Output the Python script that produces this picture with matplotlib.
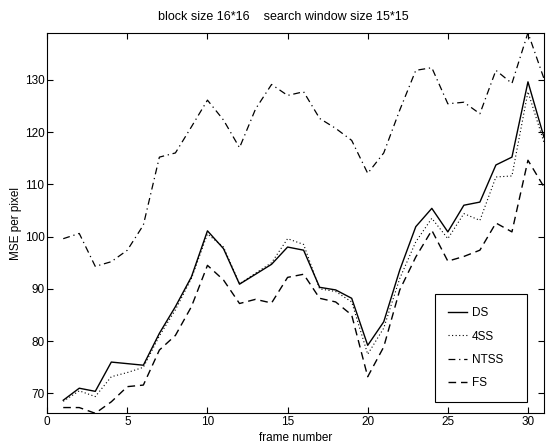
import numpy as np
import matplotlib
matplotlib.use("Agg")
import matplotlib.pyplot as plt

plt.rcParams['font.family'] = ['Liberation Sans', 'DejaVu Sans']

frames = list(range(1, 32))

ds = [68.7, 71.0, 70.4, 76.0, 75.7, 75.4, 81.5, 86.6, 92.3, 101.1, 97.7, 90.9, 92.8, 94.7, 98.0, 97.4,
      90.3, 89.8, 88.2, 79.2, 83.7, 93.6, 101.9, 105.4, 100.9, 106.0, 106.6, 113.7, 115.2, 129.6, 119.0]
ss4 = [68.5, 70.5, 69.4, 73.2, 74.0, 75.0, 81.0, 86.0, 92.0, 100.5, 98.0, 91.0, 93.0, 95.0, 99.6, 98.5,
       90.0, 89.5, 87.5, 77.5, 82.5, 92.0, 99.0, 103.5, 99.6, 104.4, 103.1, 111.4, 111.6, 127.7, 118.0]
ntss = [99.6, 100.6, 94.3, 95.2, 97.4, 102.2, 115.2, 116.0, 121.0, 126.1, 122.3, 117.0, 124.4, 129.1, 127.0, 127.7,
        122.6, 120.7, 118.4, 112.1, 116.0, 124.2, 131.8, 132.3, 125.4, 125.7, 123.5, 131.8, 129.3, 139.0, 130.2]
fs = [67.3, 67.3, 66.2, 68.4, 71.3, 71.6, 78.3, 81.1, 86.6, 94.5, 91.7, 87.2, 88.0, 87.3, 92.2, 92.8,
      88.2, 87.5, 85.0, 73.2, 78.9, 89.8, 96.1, 101.2, 95.3, 96.2, 97.4, 102.6, 100.9, 114.6, 109.5]

xticks = [0, 5, 10, 15, 20, 25, 30]
yticks = [70, 80, 90, 100, 110, 120, 130]

fig = plt.figure(figsize=(5.47, 4.46), dpi=100)
ax = fig.add_axes([0.0863, 0.0733, 0.9082, 0.8534])

ax.plot(frames, ds, color='black', lw=1.0, label='DS')
ax.plot(frames, ss4, color='black', lw=0.8, dashes=(1, 2.2), label='4SS')
ax.plot(frames, ntss, color='black', lw=0.9, dashes=(5.5, 3, 1, 3), label='NTSS')
ax.plot(frames, fs, color='black', lw=1.0, dashes=(5.5, 3.5), label='FS')

ax.set_xlim(0, 31)
ax.set_ylim(66.2, 139)
ax.set_xticks(xticks)
ax.set_yticks(yticks)
ax.tick_params(direction='in', top=True, right=True, length=4, width=0.8, labelsize=8.5, pad=2)
for s in ax.spines.values():
    s.set_linewidth(0.8)

ax.set_title('block size 16*16    search window size 15*15', fontsize=9, pad=9, x=0.476)
ax.set_xlabel('frame number', fontsize=8.5, labelpad=3)
ax.set_ylabel('MSE per pixel', fontsize=8.5, labelpad=2)

# legend box stretched to the width of the original one, contents left aligned
leg = ax.legend(loc='lower left', bbox_to_anchor=(0.7806, 0.0297, 0.1856, 0.28), mode='expand',
                borderaxespad=0, fancybox=False, framealpha=1, edgecolor='black', fontsize=8.5,
                handlelength=1.65, handletextpad=0.4, labelspacing=0.95, borderpad=1.1)
leg.get_frame().set_linewidth(0.8)

fig.savefig('out.png', dpi=100)
